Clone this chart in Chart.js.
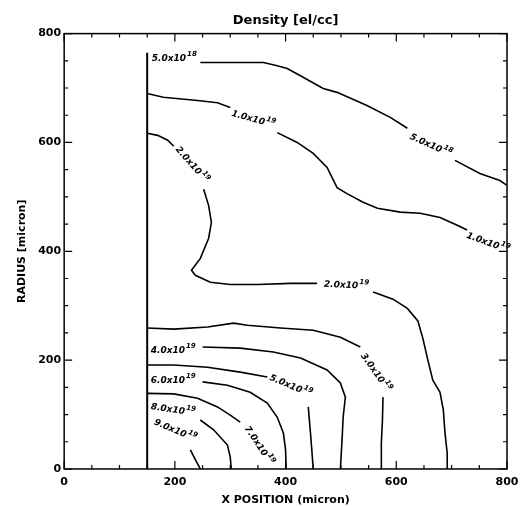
<!DOCTYPE html>
<html>
<head>
<meta charset="utf-8">
<script src="https://cdn.jsdelivr.net/npm/chart.js@4.4.1/dist/chart.umd.min.js"></script>
<style>
  html, body { margin: 0; padding: 0; background: #fff; }
</style>
</head>
<body>
<canvas id="chart" width="523" height="506"></canvas>
<script>
// axis ticks
const xTicks = [0, 200, 400, 600, 800];
const yTicks = [0, 200, 400, 600, 800];

// the wall at x = 150 micron
const wall = [[150, 0], [150, 765]];

// contours, each a list of segments (gaps are where labels sit)
const c5e18 = [
  [[246, 747], [360, 747], [385, 741], [403, 736], [426, 723], [468, 699], [493, 692], [547, 668], [589, 646], [620, 626]],
  [[706, 567], [751, 543], [787, 530], [800, 521]]
];
const c1e19 = [
  [[150, 690], [179, 683], [241, 677], [277, 673], [300, 664]],
  [[385, 618], [421, 600], [450, 580], [475, 554], [493, 517], [511, 506], [540, 490], [566, 479], [607, 472], [643, 470], [679, 462], [710, 448], [728, 439]]
];
const c2e19 = [
  [[150, 617], [169, 613], [187, 604], [198, 593]],
  [[252, 514], [261, 484], [266, 453], [261, 424], [246, 387], [230, 365], [237, 356], [264, 343], [300, 339], [349, 339], [409, 341], [457, 341]],
  [[558, 325], [594, 312], [620, 295], [639, 272], [648, 240], [657, 200], [666, 163], [679, 141], [685, 108], [688, 66], [692, 29], [692, 0]]
];
const c3e19 = [
  [[150, 259], [198, 257], [259, 261], [306, 268], [331, 264], [391, 259], [450, 255], [499, 242], [535, 224]],
  [[576, 132], [575, 90], [573, 48], [573, 0]]
];
const c4e19 = [
  [[250, 224], [318, 222], [378, 215], [427, 204], [475, 182], [499, 158], [508, 132], [504, 95], [502, 53], [499, 0]]
];
const c5e19 = [
  [[150, 191], [198, 191], [259, 187], [318, 178], [367, 169]],
  [[441, 114], [445, 66], [450, 0]]
];
const c6e19 = [
  [[250, 160], [295, 154], [336, 141], [367, 121], [385, 95], [396, 66], [400, 35], [401, 0]]
];
const c7e19 = [
  [[150, 139], [198, 138], [241, 130], [277, 114], [300, 99], [318, 86]]
];
const c8e19 = [
  [[246, 90], [270, 72], [295, 44], [300, 22], [302, 0]]
];
const c9e19 = [
  [[228, 35], [237, 17], [246, 0]]
];

// contour labels: mantissa, exponent, x, y, angle (rad)
const contourLabels = [
  ['5.0', '18', 199, 756, 0],
  ['5.0', '18', 663, 596, 0.42],
  ['1.0', '19', 342, 644, 0.27],
  ['1.0', '19', 766, 417, 0.35],
  ['2.0', '19', 232, 560, 0.85],
  ['2.0', '19', 510, 339, 0.05],
  ['3.0', '19', 564, 178, 0.95],
  ['4.0', '19', 197, 220, 0],
  ['5.0', '19', 410, 154, 0.4],
  ['6.0', '19', 197, 165, 0],
  ['7.0', '19', 353, 44, 0.98],
  ['8.0', '19', 197, 110, 0.15],
  ['9.0', '19', 201, 72, 0.4]
];

const FONT = '"DejaVu Sans", sans-serif';

const allContours = [c5e18, c1e19, c2e19, c3e19, c4e19, c5e19, c6e19, c7e19, c8e19, c9e19];
const datasets = [{
  data: wall.map(([x, y]) => ({ x, y })),
  borderWidth: 2
}];
allContours.forEach(c => c.forEach(seg => {
  datasets.push({ data: seg.map(([x, y]) => ({ x, y })), borderWidth: 1.6 });
}));
datasets.forEach(d => {
  d.showLine = true;
  d.borderColor = '#000';
  d.pointRadius = 0;
  d.fill = false;
});

const framePlugin = {
  id: 'frame',
  afterDatasetsDraw(chart) {
    const { ctx, chartArea: a, scales: { x, y } } = chart;
    ctx.save();
    ctx.strokeStyle = '#000';
    ctx.lineWidth = 1.5;
    ctx.strokeRect(a.left, a.top, a.right - a.left, a.bottom - a.top);

    // inward ticks on all four sides
    ctx.lineWidth = 1.2;
    ctx.beginPath();
    for (let v = 0; v <= 800; v += 50) {
      const len = v % 200 === 0 ? 8 : 4;
      const px = x.getPixelForValue(v);
      ctx.moveTo(px, a.bottom); ctx.lineTo(px, a.bottom - len);
      ctx.moveTo(px, a.top); ctx.lineTo(px, a.top + len);
      const py = y.getPixelForValue(v);
      ctx.moveTo(a.left, py); ctx.lineTo(a.left + len, py);
      ctx.moveTo(a.right, py); ctx.lineTo(a.right - len, py);
    }
    ctx.stroke();

    // contour labels
    ctx.fillStyle = '#000';
    ctx.textBaseline = 'middle';
    contourLabels.forEach(([m, e, vx, vy, ang]) => {
      const main = m + 'x10';
      ctx.font = 'italic bold 9px ' + FONT;
      const w1 = ctx.measureText(main).width;
      ctx.font = 'italic bold 7px ' + FONT;
      const w2 = ctx.measureText(e).width;
      const w = w1 + 1 + w2;
      ctx.save();
      ctx.translate(x.getPixelForValue(vx), y.getPixelForValue(vy));
      ctx.rotate(ang);
      ctx.textAlign = 'left';
      ctx.font = 'italic bold 9px ' + FONT;
      ctx.fillText(main, -w / 2, 1);
      ctx.font = 'italic bold 7px ' + FONT;
      ctx.fillText(e, -w / 2 + w1 + 1, -3);
      ctx.restore();
    });
    ctx.restore();
  }
};

new Chart(document.getElementById('chart'), {
  type: 'scatter',
  data: { datasets },
  options: {
    responsive: false,
    animation: false,
    devicePixelRatio: 1,
    layout: { padding: { left: 10, right: 16, top: 0, bottom: 0 } },
    plugins: {
      legend: { display: false },
      tooltip: { enabled: false },
      title: {
        display: true,
        text: 'Density [el/cc]',
        color: '#000',
        fullSize: false,
        font: { family: FONT, size: 13, weight: 'bold' },
        padding: { top: 13, bottom: 5 }
      }
    },
    scales: {
      x: {
        type: 'linear',
        min: 0,
        max: 800,
        afterBuildTicks: s => { s.ticks = xTicks.map(v => ({ value: v })); },
        grid: { display: false, drawTicks: false },
        border: { display: false },
        ticks: { color: '#000', padding: 3, maxRotation: 0, font: { family: FONT, size: 11, weight: 'bold', lineHeight: 1.82 } },
        title: {
          display: true,
          text: 'X POSITION (micron)',
          color: '#000',
          font: { family: FONT, size: 11, weight: 'bold', lineHeight: 1 },
          padding: { top: 0, bottom: 0 }
        }
      },
      y: {
        type: 'linear',
        min: 0,
        max: 800,
        afterBuildTicks: s => { s.ticks = yTicks.map(v => ({ value: v })); },
        grid: { display: false, drawTicks: false },
        border: { display: false },
        ticks: { color: '#000', padding: 3, font: { family: FONT, size: 11, weight: 'bold' } },
        title: {
          display: true,
          text: 'RADIUS [micron]',
          color: '#000',
          font: { family: FONT, size: 11, weight: 'bold', lineHeight: 1 },
          padding: { top: 6.5, bottom: 7.7 }
        }
      }
    }
  },
  plugins: [framePlugin]
});
</script>
</body>
</html>
